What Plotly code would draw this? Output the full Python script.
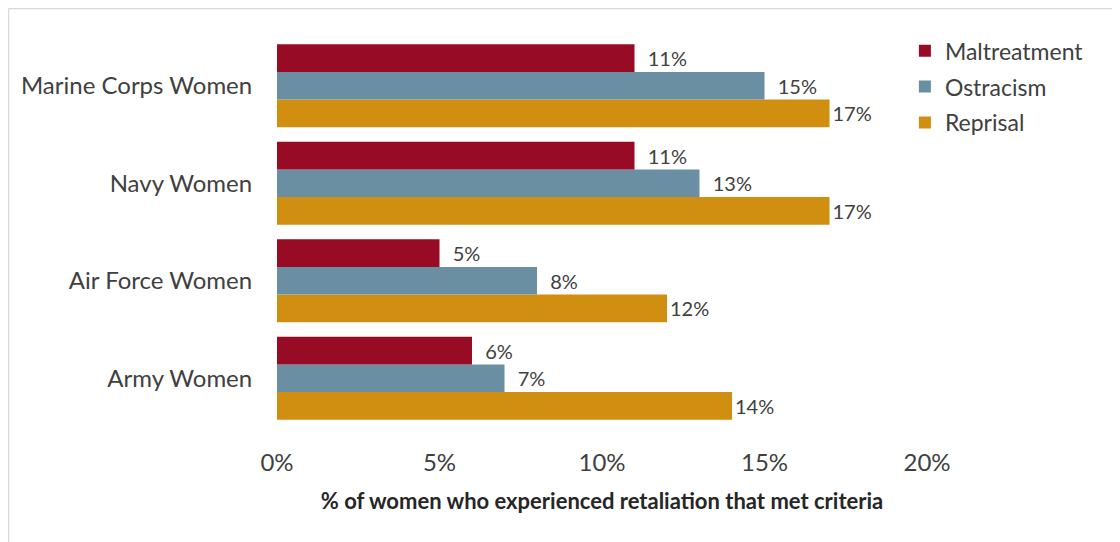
import plotly.graph_objects as go

categories = ["Army Women", "Air Force Women", "Navy Women", "Marine Corps Women"]
maltreatment = [6, 5, 11, 11]
ostracism = [7, 8, 13, 15]
reprisal = [14, 12, 17, 17]
x_ticks = [0, 5, 10, 15, 20]
x_tick_labels = ["0%", "5%", "10%", "15%", "20%"]

FONT = "Lato, 'Noto Sans', sans-serif"
TXT = "#404040"

W, H = 1112, 534
L, T, R, B = 269, 29, 193, 115
PH = H - T - B
PW = W - L - R

fig = go.Figure()
series = [
    ("Reprisal", reprisal, "#D08F10", "", 3),
    ("Ostracism", ostracism, "#6A8FA3", "\u00a0\u00a0", 2),
    ("Maltreatment", maltreatment, "#970C24", "\u00a0\u00a0", 1),
]
for name, vals, col, pad, rank in series:
    fig.add_trace(go.Bar(
        y=categories, x=vals, name=name, orientation="h",
        legendgroup=name, legendrank=rank,
        marker=dict(color=col, line=dict(width=0)),
        text=[f"{pad}{v}%" for v in vals], textposition="outside",
        textfont=dict(size=20, color=TXT, family=FONT),
        cliponaxis=False,
    ))

fig.update_layout(
    width=W, height=H,
    margin=dict(l=L, r=R, t=T, b=B),
    paper_bgcolor="white", plot_bgcolor="white",
    barmode="group", bargap=0.15, bargroupgap=0,
    font=dict(family=FONT, color=TXT, size=20),
    legend=dict(
        x=0.966, y=1.02, xanchor="left", yanchor="top",
        traceorder="grouped", font=dict(size=23, color=TXT),
        bgcolor="rgba(0,0,0,0)", itemwidth=30, tracegroupgap=3,
    ),
    xaxis=dict(
        range=[0, 20], tickvals=x_ticks, ticktext=x_tick_labels,
        showgrid=False, zeroline=False, showline=False,
        ticks="outside", ticklen=14, tickcolor="rgba(0,0,0,0)",
        tickfont=dict(size=24, color=TXT),
        title=dict(text="<b>% of women who experienced retaliation that met criteria</b>",
                   font=dict(size=22, color="#262626"), standoff=18),
    ),
    yaxis=dict(
        showgrid=False, zeroline=False, showline=False,
        ticks="outside", ticklen=19, tickcolor="rgba(0,0,0,0)",
        tickfont=dict(size=24, color=TXT),
    ),
    shapes=[
        dict(type="line", xref="paper", yref="paper",
             x0=(0.5 - L) / PW, x1=(W + 10 - L) / PW,
             y0=1 + (T - 0.5) / PH, y1=1 + (T - 0.5) / PH,
             line=dict(color="#D9D9D9", width=1.5)),
        dict(type="line", xref="paper", yref="paper",
             x0=(0.5 - L) / PW, x1=(0.5 - L) / PW,
             y0=1 + (T - 0.5) / PH, y1=-(B + 10) / PH,
             line=dict(color="#D9D9D9", width=1.5)),
    ],
)

fig.write_html("out.html")
